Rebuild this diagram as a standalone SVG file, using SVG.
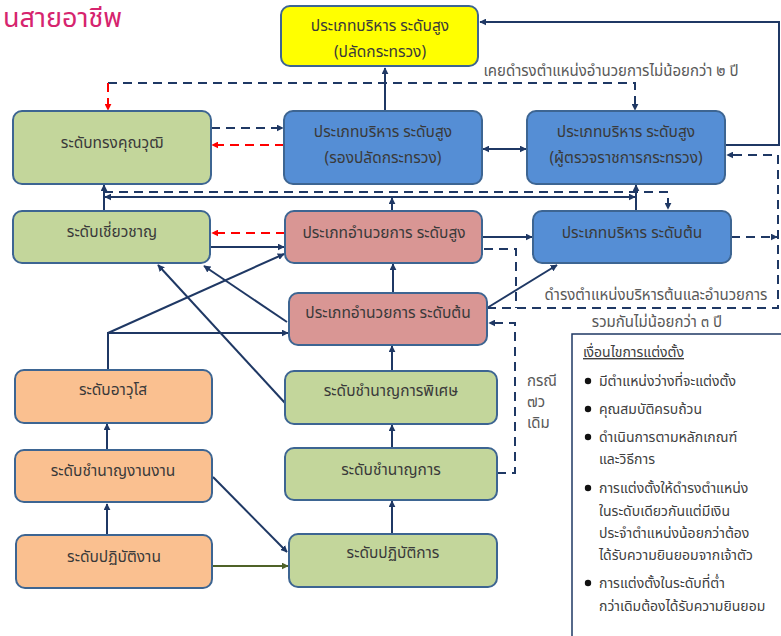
<svg xmlns="http://www.w3.org/2000/svg" width="781" height="636" viewBox="0 0 781 636">
<style>
text{font-family:"Noto Sans","Noto Sans Thai","Liberation Sans",sans-serif;}
.box{stroke:#3d6592;stroke-width:2;}
.g{fill:#c3d69b;}
.b{fill:#558ed5;}
.p{fill:#d99694;}
.o{fill:#fac090;}
.y{fill:#ffff00;}
.t{font-size:15.5px;fill:#3a3a3a;text-anchor:middle;}
.n{fill:none;stroke:#1f3864;stroke-width:2;}
.d{stroke-dasharray:9 6;}
.r{fill:none;stroke:#ff0000;stroke-width:2;stroke-dasharray:9 6;}
.ol{fill:none;stroke:#4f6228;stroke-width:2;}
.a{font-size:15px;fill:#595959;}
.l{font-size:14px;fill:#404040;}
</style>
<defs>
<marker id="an" viewBox="0 0 10 10" refX="9" refY="5" markerWidth="7" markerHeight="7" markerUnits="userSpaceOnUse" orient="auto-start-reverse"><path d="M0,0 L10,5 L0,10 z" fill="#1f3864"/></marker>
<marker id="ar" viewBox="0 0 10 10" refX="9" refY="5" markerWidth="7" markerHeight="7" markerUnits="userSpaceOnUse" orient="auto"><path d="M0,0 L10,5 L0,10 z" fill="#ff0000"/></marker>
<marker id="ao" viewBox="0 0 10 10" refX="9" refY="5" markerWidth="7" markerHeight="7" markerUnits="userSpaceOnUse" orient="auto"><path d="M0,0 L10,5 L0,10 z" fill="#4f6228"/></marker>
</defs>
<rect width="781" height="636" fill="#ffffff"/>
<text x="3" y="27" style="font-size:27px;fill:#d6246e">นสายอาชีพ</text>

<g id="connectors">
<path class="n" d="M725,145 H779 V22 H480" marker-end="url(#an)"/>
<path class="n" d="M385,111 V68" marker-end="url(#an)"/>
<path class="n d" d="M108,83 H635 V110" marker-end="url(#an)"/>
<path class="r" d="M108,83 V110" marker-end="url(#ar)"/>
<path class="n d" d="M211,128 H283" marker-end="url(#an)"/>
<path class="r" d="M284,145 H212" marker-end="url(#ar)"/>
<path class="n" d="M483,149 H526" marker-start="url(#an)" marker-end="url(#an)"/>
<path class="n" d="M104,211 V185" marker-end="url(#an)"/>
<path class="n d" d="M104,192 H668 V209" marker-end="url(#an)"/>
<path class="n" d="M392,211 V198" marker-end="url(#an)"/>
<path class="n" d="M392,197 H105" marker-end="url(#an)"/>
<path class="n" d="M392,197 H635" marker-end="url(#an)"/>
<path class="n" d="M636,210 V185" marker-end="url(#an)"/>
<path class="r" d="M285,233 H212" marker-end="url(#ar)"/>
<path class="n" d="M210,247 H284" marker-end="url(#an)"/>
<path class="n" d="M483,237 H532" marker-end="url(#an)"/>
<path class="n" d="M393,293 V264" marker-end="url(#an)"/>
<path class="n" d="M487,308 L557,265" marker-end="url(#an)"/>
<path class="n d" d="M484,249 H516 V308"/>
<path class="n d" d="M487,308 H778 V155 H727" marker-end="url(#an)"/>
<path class="n d" d="M731,237 H777" marker-end="url(#an)"/>
<path class="n d" d="M497,473 H515 V323 H489" marker-end="url(#an)"/>
<path class="n" d="M108,370 V333 H288" marker-end="url(#an)"/>
<path class="n" d="M108,333 L284,254" marker-end="url(#an)"/>
<path class="n" d="M285,403 L158,265" marker-end="url(#an)"/>
<path class="n" d="M287,322 L204,266" marker-end="url(#an)"/>
<path class="n" d="M213,477 L287,552" marker-end="url(#an)"/>
<path class="ol" d="M212,566 H288" marker-end="url(#ao)"/>
<path class="n" d="M107,535 V504" marker-end="url(#an)"/>
<path class="n" d="M107,449 V424" marker-end="url(#an)"/>
<path class="n" d="M392,533 V501" marker-end="url(#an)"/>
<path class="n" d="M392,448 V425" marker-end="url(#an)"/>
<path class="n" d="M392,371 V346" marker-end="url(#an)"/>
</g>

<g id="n-permsec"><rect class="box y" x="281" y="6" width="197" height="60" rx="9"/><text class="t" x="380" y="31">ประเภทบริหาร ระดับสูง</text><text class="t" x="380" y="57">(ปลัดกระทรวง)</text></g>
<g id="n-expert-top"><rect class="box g" x="13" y="111" width="198" height="73" rx="9"/><text class="t" x="112" y="148">ระดับทรงคุณวุฒิ</text></g>
<g id="n-deputy"><rect class="box b" x="284" y="111" width="198" height="73" rx="9"/><text class="t" x="383" y="137">ประเภทบริหาร ระดับสูง</text><text class="t" x="383" y="163">(รองปลัดกระทรวง)</text></g>
<g id="n-inspector"><rect class="box b" x="527" y="111" width="198" height="73" rx="9"/><text class="t" x="626" y="137">ประเภทบริหาร ระดับสูง</text><text class="t" x="626" y="163">(ผู้ตรวจราชการกระทรวง)</text></g>
<g id="n-expert"><rect class="box g" x="13" y="211" width="197" height="52" rx="9"/><text class="t" x="112" y="237">ระดับเชี่ยวชาญ</text></g>
<g id="n-dir-high"><rect class="box p" x="285" y="211" width="197" height="52" rx="9"/><text class="t" x="384" y="238">ประเภทอำนวยการ ระดับสูง</text></g>
<g id="n-exec-low"><rect class="box b" x="533" y="211" width="198" height="52" rx="9"/><text class="t" x="632" y="238">ประเภทบริหาร ระดับต้น</text></g>
<g id="n-dir-low"><rect class="box p" x="289" y="293" width="198" height="52" rx="9"/><text class="t" x="388" y="318">ประเภทอำนวยการ ระดับต้น</text></g>
<g id="n-senior"><rect class="box o" x="15" y="370" width="197" height="53" rx="9"/><text class="t" x="113" y="395">ระดับอาวุโส</text></g>
<g id="n-skilled"><rect class="box o" x="15" y="450" width="197" height="52" rx="9"/><text class="t" x="113" y="476">ระดับชำนาญงานงาน</text></g>
<g id="n-operation"><rect class="box o" x="16" y="535" width="196" height="53" rx="9"/><text class="t" x="114" y="562">ระดับปฏิบัติงาน</text></g>
<g id="n-senior-prof"><rect class="box g" x="285" y="371" width="212" height="53" rx="9"/><text class="t" x="391" y="396">ระดับชำนาญการพิเศษ</text></g>
<g id="n-prof"><rect class="box g" x="285" y="448" width="212" height="52" rx="9"/><text class="t" x="391" y="475">ระดับชำนาญการ</text></g>
<g id="n-practitioner"><rect class="box g" x="289" y="534" width="208" height="53" rx="9"/><text class="t" x="393" y="558">ระดับปฏิบัติการ</text></g>

<g id="labels">
<text class="a" x="611" y="76" text-anchor="middle">เคยดำรงตำแหน่งอำนวยการไม่น้อยกว่า ๒ ปี</text>
<text class="a" x="656" y="300" text-anchor="middle">ดำรงตำแหน่งบริหารต้นและอำนวยการ</text>
<text class="a" x="657" y="327" text-anchor="middle">รวมกันไม่น้อยกว่า ๓ ปี</text>
<text class="a" x="527" y="386">กรณี</text>
<text class="a" x="527" y="407">๗ว</text>
<text class="a" x="527" y="428">เดิม</text>
</g>

<g id="conditions">
<rect x="572" y="334" width="220" height="310" fill="#ffffff" stroke="#1f3864" stroke-width="1.5"/>
<text class="l" x="583" y="357" text-decoration="underline">เงื่อนไขการแต่งตั้ง</text>
<circle cx="588" cy="381" r="3.2" fill="#111"/><text class="l" x="599" y="386">มีตำแหน่งว่างที่จะแต่งตั้ง</text>
<circle cx="588" cy="409" r="3.2" fill="#111"/><text class="l" x="599" y="414">คุณสมบัติครบถ้วน</text>
<circle cx="588" cy="437" r="3.2" fill="#111"/><text class="l" x="599" y="442">ดำเนินการตามหลักเกณฑ์</text>
<text class="l" x="599" y="464">และวิธีการ</text>
<circle cx="588" cy="488" r="3.2" fill="#111"/><text class="l" x="599" y="493">การแต่งตั้งให้ดำรงตำแหน่ง</text>
<text class="l" x="599" y="516">ในระดับเดียวกันแต่มีเงิน</text>
<text class="l" x="599" y="538">ประจำตำแหน่งน้อยกว่าต้อง</text>
<text class="l" x="599" y="560">ได้รับความยินยอมจากเจ้าตัว</text>
<circle cx="588" cy="583" r="3.2" fill="#111"/><text class="l" x="599" y="588">การแต่งตั้งในระดับที่ต่ำ</text>
<text class="l" x="599" y="611">กว่าเดิมต้องได้รับความยินยอม</text>
</g>
</svg>
